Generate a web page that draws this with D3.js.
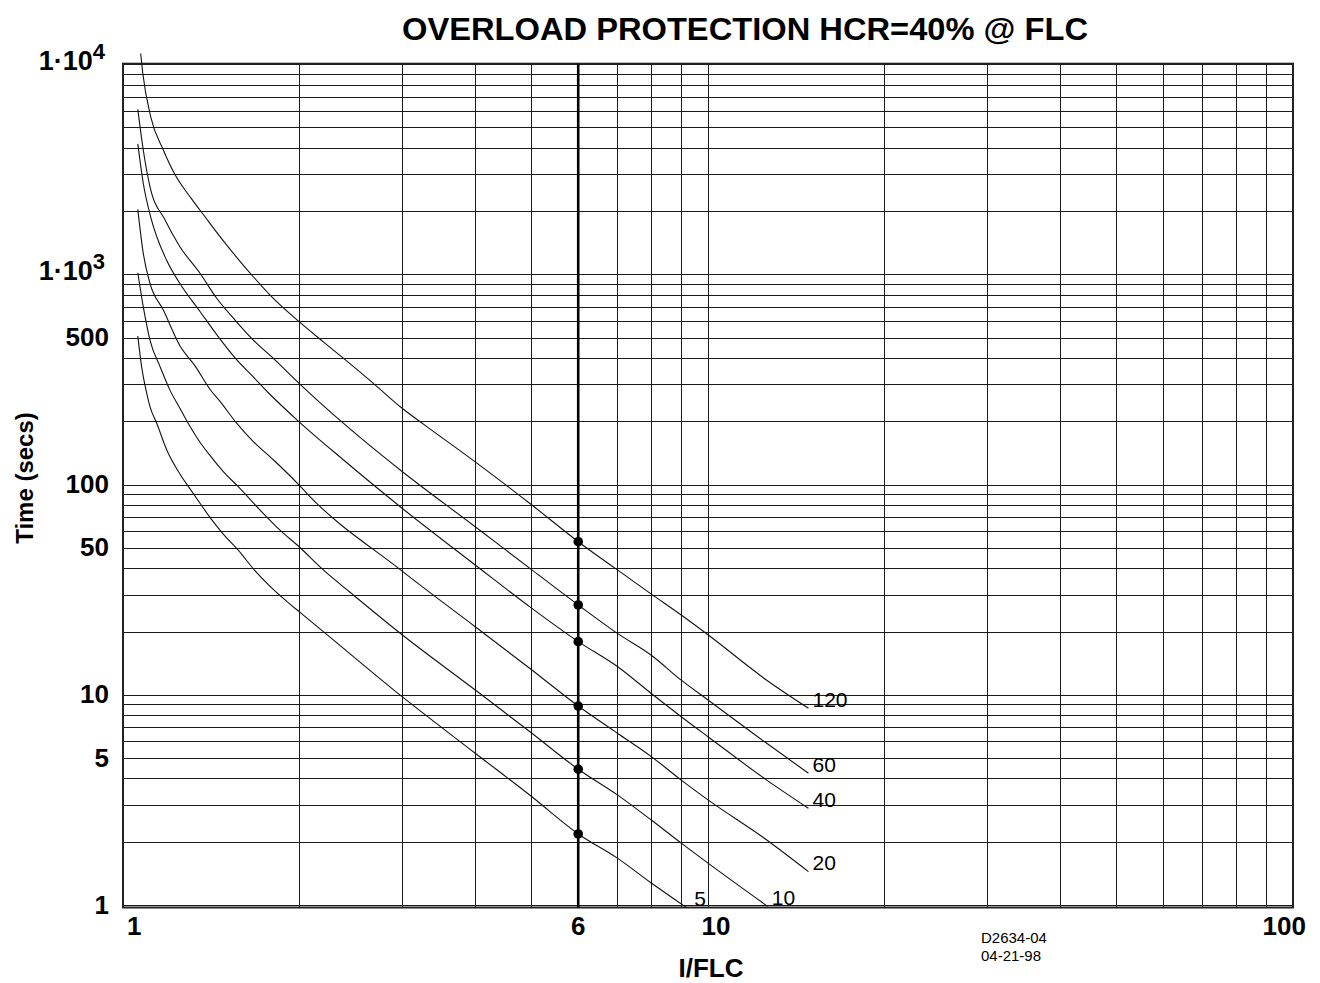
<!DOCTYPE html>
<html>
<head>
<meta charset="utf-8">
<script src="https://cdn.jsdelivr.net/npm/d3@7/dist/d3.min.js"></script>
<style>
body { margin: 0; background: #fff; }
text { font-family: "Liberation Sans", Arial, Helvetica, sans-serif; fill: #000; }
</style>
</head>
<body>
<svg id="chart" width="1320" height="983"></svg>
<script>
// overload curves, [I/FLC, time in secs]
const curveNames = ["120", "60", "40", "20", "10", "5"];
const curve120 = [[1.072, 11300], [1.081, 9100], [1.115, 5660], [1.172, 3930], [1.227, 3000], [1.31, 2300],
    [1.381, 1890], [1.465, 1520], [1.585, 1160], [1.67, 980], [1.784, 802], [2, 599], [2.2, 480], [2.4, 394],
    [2.7, 299], [3, 232], [3.28, 193], [4, 129], [5, 80.4], [6, 53.8], [7, 39.5], [8, 30.3], [9, 24.1],
    [10, 19.4], [12.6, 11.8], [14.85, 8.68]];
const curve60 = [[1.06, 6130], [1.083, 3930], [1.112, 2630], [1.18, 1825], [1.251, 1362], [1.354, 1018],
    [1.446, 774], [1.554, 610], [1.67, 490], [1.807, 401], [2, 305], [2.38, 197], [3, 116], [4, 63.4],
    [5, 39.5], [6, 26.9], [7, 19.7], [8, 15.5], [9, 11.8], [10, 9.5], [12.6, 5.91], [14.85, 4.26]];
const curve40 = [[1.06, 4200], [1.083, 2730], [1.115, 1890], [1.188, 1170], [1.251, 910], [1.354, 670],
    [1.446, 520], [1.564, 395], [1.67, 327], [1.772, 275], [2, 200], [2.38, 132], [3, 77.6], [4, 41.7],
    [5, 25.9], [6, 18], [7, 13.7], [8, 10.2], [9, 7.91], [10, 6.35], [12.6, 3.95], [14.85, 2.9]];
const curve20 = [[1.06, 2050], [1.083, 1267], [1.112, 912], [1.172, 680], [1.251, 460], [1.327, 370],
    [1.409, 285], [1.465, 250], [1.564, 197], [1.67, 161], [1.807, 132], [2, 100], [2.061, 91.4], [3, 39],
    [4, 21.2], [5, 13.2], [6, 8.89], [7, 6.6], [8, 5.11], [9, 3.95], [10, 3.18], [12.6, 2.05], [14.85, 1.45]];
const curve10 = [[1.06, 1024], [1.083, 706], [1.112, 490], [1.157, 366], [1.203, 283], [1.251, 232],
    [1.302, 190], [1.354, 160], [1.409, 138], [1.484, 116], [1.574, 98.3], [1.715, 76.1], [1.855, 61.1],
    [2, 50.9], [2.2, 39.5], [2.476, 30], [3, 19.4], [4, 10.6], [5, 6.6], [6, 4.45], [7, 3.36], [8, 2.55],
    [9, 1.98], [10, 1.59], [12.65, 0.99]];
const curve5 = [[1.06, 512], [1.076, 366], [1.098, 273], [1.112, 236], [1.142, 197], [1.188, 147],
    [1.251, 113], [1.302, 96], [1.354, 82], [1.409, 70], [1.484, 58.5], [1.574, 49], [1.67, 40],
    [1.784, 33], [1.905, 28], [2, 25], [2.2, 20.1], [3, 9.85], [4, 5.3], [5, 3.29], [6, 2.19],
    [7, 1.68], [8, 1.28], [9.18, 0.98]];
const curves = [curve120, curve60, curve40, curve20, curve10, curve5];

const markerAt = 6;
const xTickLabels = [1, 6, 10, 100];
const yTickLabels = [1, 5, 10, 50, 100, 500, 1000, 10000];

const svg = d3.select("#chart");
const x = d3.scaleLog().domain([1, 100]).range([123, 1293]);
const y = d3.scaleLog().domain([1, 10000]).range([905.5, 64.7]);

const plotTop = y(10000) - 1, plotBottom = y(1) + 2;

// grid
const grid = svg.append("g").attr("shape-rendering", "crispEdges").attr("stroke", "#1a1a1a").attr("stroke-width", 1);
grid.selectAll(".vgrid").data(x.ticks()).enter().append("line")
    .attr("x1", d => x(d)).attr("x2", d => x(d)).attr("y1", plotTop).attr("y2", plotBottom);
grid.selectAll(".hgrid").data(y.ticks()).enter().append("line")
    .attr("x1", x(1)).attr("x2", x(100)).attr("y1", d => y(d)).attr("y2", d => y(d));

svg.append("rect")
    .attr("x", x(1)).attr("y", plotTop)
    .attr("width", x(100) - x(1)).attr("height", plotBottom - plotTop)
    .attr("fill", "none").attr("stroke", "#222").attr("stroke-width", 2);

// heavy line at 6 x FLC
svg.append("line")
    .attr("x1", x(markerAt)).attr("x2", x(markerAt))
    .attr("y1", plotTop).attr("y2", plotBottom)
    .attr("stroke", "#000").attr("stroke-width", 2.6);

// curves
const line = d3.line().x(d => x(d[0])).y(d => y(d[1])).curve(d3.curveMonotoneX);
svg.selectAll(".curve").data(curves).enter().append("path")
    .attr("class", "curve")
    .attr("d", line)
    .attr("fill", "none").attr("stroke", "#111").attr("stroke-width", 1.1);

svg.selectAll(".dot").data(curves.map(c => c.find(d => d[0] === markerAt))).enter().append("circle")
    .attr("cx", d => x(d[0])).attr("cy", d => y(d[1])).attr("r", 4.8).attr("fill", "#000");

svg.selectAll(".curve-label").data(curves).enter().append("text")
    .attr("x", (d, i) => x(d[d.length - 1][0]) + (i === 5 ? 8 : 4))
    .attr("y", d => y(d[d.length - 1][1]) - 1.5)
    .attr("font-size", 21)
    .text((d, i) => curveNames[i]);

// y tick labels
const yLab = svg.selectAll(".ylab").data(yTickLabels).enter().append("text")
    .attr("x", 109).attr("y", d => y(d) + 8)
    .attr("text-anchor", "end")
    .attr("font-size", 26).attr("font-weight", "bold");
yLab.each(function(d) {
    const t = d3.select(this);
    if (d >= 1000) {
        t.attr("x", 105).attr("y", y(d) + 5);
        t.append("tspan").attr("font-size", 27).text("1\u00b710");
        t.append("tspan").attr("font-size", 22).attr("dy", -11).text(Math.round(Math.log10(d)));
    } else {
        t.text(d);
    }
});

// x tick labels
const xAnchor = d => d === 1 ? "start" : d === 100 ? "end" : "middle";
const xShift = d => d === 1 ? 4 : d === 10 ? 8 : d === 100 ? 13 : 0;
svg.selectAll(".xlab").data(xTickLabels).enter().append("text")
    .attr("x", d => x(d) + xShift(d)).attr("y", 935)
    .attr("text-anchor", xAnchor)
    .attr("font-size", 26).attr("font-weight", "bold")
    .text(d => d);

// titles
svg.append("text")
    .attr("x", 745).attr("y", 40).attr("text-anchor", "middle")
    .attr("font-size", 32).attr("font-weight", "bold")
    .attr("textLength", 686).attr("lengthAdjust", "spacingAndGlyphs")
    .text("OVERLOAD PROTECTION HCR=40% @ FLC");

svg.append("text")
    .attr("transform", "translate(33,478) rotate(-90)")
    .attr("text-anchor", "middle")
    .attr("font-size", 24).attr("font-weight", "bold")
    .text("Time (secs)");

svg.append("text")
    .attr("x", 711).attr("y", 977).attr("text-anchor", "middle")
    .attr("font-size", 26).attr("font-weight", "bold")
    .text("I/FLC");

svg.append("text").attr("x", 981).attr("y", 943).attr("font-size", 15).text("D2634-04");
svg.append("text").attr("x", 981).attr("y", 961).attr("font-size", 15).text("04-21-98");
</script>
</body>
</html>
